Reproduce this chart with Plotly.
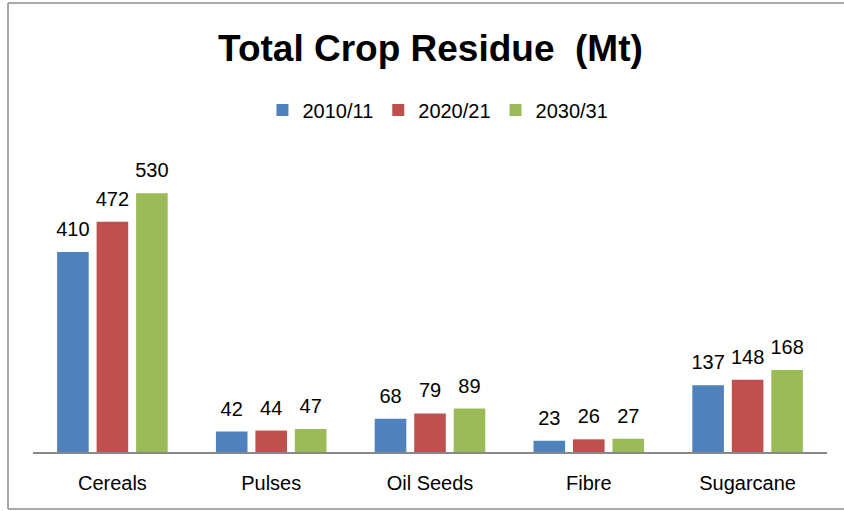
import plotly.graph_objects as go

categories = ["Cereals", "Pulses", "Oil Seeds", "Fibre", "Sugarcane"]
series_names = ["2010/11", "2020/21", "2030/31"]
v2010 = [410, 42, 68, 23, 137]
v2020 = [472, 44, 79, 26, 148]
v2030 = [530, 47, 89, 27, 168]
colors = ["#4F81BD", "#C0504D", "#9BBB59"]

FONT = "Liberation Sans Narrow, Arial Narrow, Liberation Sans, sans-serif"

fig = go.Figure()
for i, (name, vals, c) in enumerate(zip(series_names, [v2010, v2020, v2030], colors)):
    fig.add_trace(go.Bar(
        x=categories, y=vals, name=name, marker_color=c,
        marker_line_width=0, offsetgroup=str(i),
    ))
for i, vals in enumerate([v2010, v2020, v2030]):
    fig.add_trace(go.Scatter(
        x=categories, y=vals, mode="markers+text", offsetgroup=str(i),
        marker=dict(size=16, color="rgba(0,0,0,0)"),
        text=[str(v) for v in vals], textposition="top center",
        textfont=dict(family=FONT, size=20, color="#000000"),
        showlegend=False, hoverinfo="skip", cliponaxis=False,
    ))

W, H = 844, 511
L, R, T, B = 33, 17, 150, 59
fig.update_layout(
    width=W, height=H,
    margin=dict(l=L, r=R, t=T, b=B),
    paper_bgcolor="white", plot_bgcolor="white",
    barmode="group", bargap=0.254, bargroupgap=0.2,
    scattermode="group", scattergap=0.254,
    title=dict(text="<b>Total Crop Residue  (Mt)</b>", x=0.51, xanchor="center",
               y=1 - 48 / H, yanchor="middle",
               font=dict(family=FONT, size=37, color="#000000")),
    legend=dict(orientation="h", x=0.51, xanchor="center", y=1 - 110 / H, yref="container",
                yanchor="middle", font=dict(family=FONT, size=20, color="#000000"),
                itemwidth=30, tracegroupgap=0),
    showlegend=True,
    xaxis=dict(showline=True, linecolor="#888888", linewidth=1.5, ticks="",
               ticklabelstandoff=12,
               tickfont=dict(family=FONT, size=20, color="#000000"), showgrid=False),
    yaxis=dict(range=[0, (452 - 150) / 0.488], visible=False, showgrid=False),
)

ph = H - T - B
pw = W - L - R
fx0, fx1 = (8 - L) / pw, (900 - L) / pw
fy0, fy1 = (452 - 509) / ph, (452 - 3) / ph
frame = dict(color="#8C8C8C", width=1.5)
fig.add_shape(type="line", xref="paper", yref="paper", x0=fx0, x1=fx0, y0=fy0, y1=fy1, line=frame)
fig.add_shape(type="line", xref="paper", yref="paper", x0=fx0, x1=fx1, y0=fy1, y1=fy1, line=frame)
fig.add_shape(type="line", xref="paper", yref="paper", x0=fx0, x1=fx1, y0=fy0, y1=fy0, line=frame)

fig.write_html("out.html", config={"displayModeBar": False},
               post_script="document.body.style.margin='0';document.body.style.overflow='hidden';")
